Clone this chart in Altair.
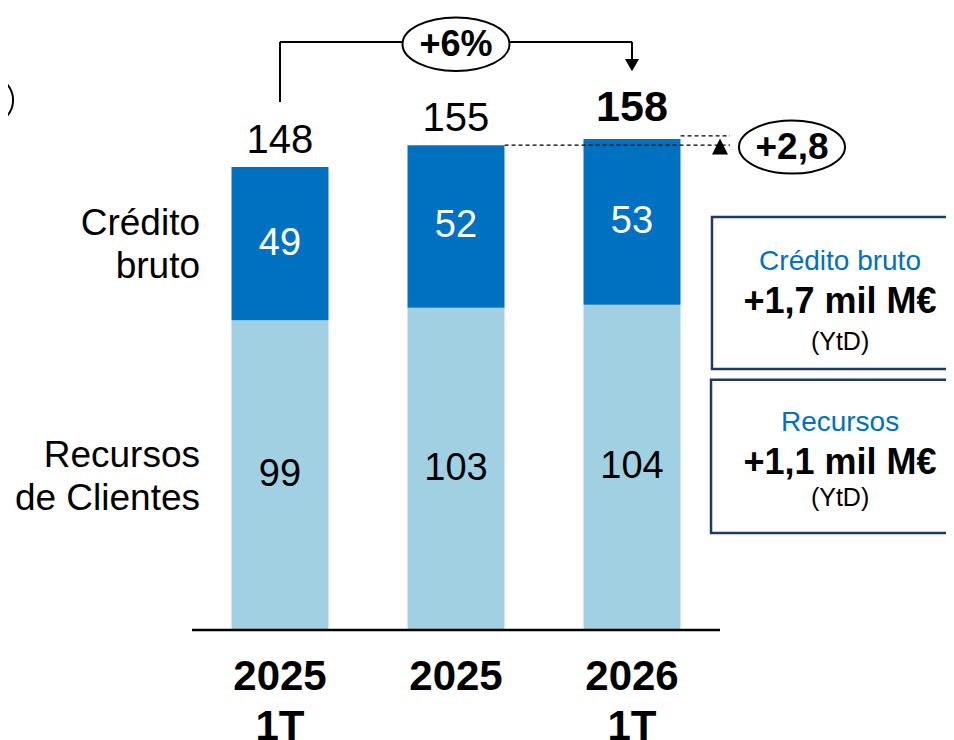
import altair as alt
import pandas as pd

# ---------------- data ----------------
categories = ["2025\n1T", "2025", "2026\n1T"]
recursos = [99, 103, 104]          # Recursos de Clientes
credito = [49, 52, 53]             # Crédito bruto
totals = [148, 155, 158]
side_labels = ["Crédito\nbruto", "Recursos\nde Clientes"]
box_titles = ["Crédito bruto", "Recursos"]
box_values = ["+1,7 mil M€", "+1,1 mil M€"]
box_notes = ["(YtD)", "(YtD)"]
growth_label = "+6%"
delta_label = "+2,8"

DARK = "#0070C0"
LIGHT = "#A1D0E3"
NAVY = "#1F3A60"
FONT = "Liberation Sans"

W, H = 938, 732
X_DOM = [-1.54545, 3.78409]    # category index units
Y_DOM = [-35.17, 198.85]       # value units

idx = list(range(len(categories)))

xs = lambda f="x": alt.X(f"{f}:Q", scale=alt.Scale(domain=X_DOM, nice=False, zero=False, padding=0), axis=None)
ys = lambda f="y": alt.Y(f"{f}:Q", scale=alt.Scale(domain=Y_DOM, nice=False, zero=False, padding=0), axis=None)

# ---------------- bars ----------------
bar_rows = []
for i, r, c in zip(idx, recursos, credito):
    bar_rows.append({"x": i, "y": 0, "y2": r, "seg": "Recursos"})
    bar_rows.append({"x": i, "y": r, "y2": r + c, "seg": "Crédito"})
bars_df = pd.DataFrame(bar_rows)

bars = alt.Chart(bars_df).mark_bar(size=97).encode(
    x=xs(), y=ys(), y2="y2:Q",
    color=alt.Color("seg:N", scale=alt.Scale(domain=["Recursos", "Crédito"], range=[LIGHT, DARK]), legend=None),
)

rec_lab_df = pd.DataFrame({"x": idx, "y": [r / 2 for r in recursos], "t": [str(r) for r in recursos]})
cre_lab_df = pd.DataFrame({"x": idx, "y": [r + c / 2 for r, c in zip(recursos, credito)], "t": [str(c) for c in credito]})

rec_lab = alt.Chart(rec_lab_df).mark_text(font=FONT, fontSize=38, color="black", baseline="middle").encode(
    x=xs(), y=ys(), text="t:N")
cre_lab = alt.Chart(cre_lab_df).mark_text(font=FONT, fontSize=38, color="white", baseline="middle").encode(
    x=xs(), y=ys(), text="t:N")

tot_df = pd.DataFrame({"x": idx, "y": totals, "t": [str(t) for t in totals]})
tot_lab = alt.Chart(tot_df.iloc[:2]).mark_text(font=FONT, fontSize=40, color="black", baseline="alphabetic", dy=-14).encode(
    x=xs(), y=ys(), text="t:N")
tot_lab_b = alt.Chart(tot_df.iloc[2:]).mark_text(font=FONT, fontSize=43, fontWeight="bold", color="black", baseline="alphabetic", dy=-15).encode(
    x=xs(), y=ys(), text="t:N")

# category labels under the axis line
cat_df = pd.DataFrame({"x": idx, "y": [0] * len(idx), "t": categories})
cat_lab = alt.Chart(cat_df).mark_text(font=FONT, fontSize=42, fontWeight="bold", color="black",
                                      baseline="alphabetic", lineBreak="\n", lineHeight=50, dy=60).encode(
    x=xs(), y=ys(), text="t:N")

# baseline
base_df = pd.DataFrame({"x": [-0.5], "x2": [2.5], "y": [0]})
base = alt.Chart(base_df).mark_rule(color="black", strokeWidth=2.5).encode(x=xs(), x2="x2:Q", y=ys())

# side labels left of first bar
side_df = pd.DataFrame({"x": [0, 0],
                        "y": [recursos[0] + credito[0] / 2, recursos[0] / 2],
                        "t": side_labels})
side = alt.Chart(side_df).mark_text(font=FONT, fontSize=37, color="black", align="right", baseline="middle",
                                    lineBreak="\n", lineHeight=43, dx=-80, dy=-19.5).encode(x=xs(), y=ys(), text="t:N")

# ---------------- growth bracket (+6%) ----------------
BR_Y = 188.0
br_df = pd.DataFrame({
    "x": [0, 0, 2], "x2": [0, 2, 2],
    "y": [totals[0] + 20.8, BR_Y, BR_Y], "y2": [BR_Y, BR_Y, 182.0],
})
bracket = alt.Chart(br_df).mark_rule(color="black", strokeWidth=2).encode(x=xs(), x2="x2:Q", y=ys(), y2="y2:Q")

arrow_df = pd.DataFrame({"x": [2], "y": [180.6]})
arrow_down = alt.Chart(arrow_df).mark_point(shape="triangle-down", size=200, filled=True, color="black", opacity=1).encode(
    x=xs(), y=ys())

ELL_A = "M -1 0 A 1 0.5 0 1 1 1 0 A 1 0.5 0 1 1 -1 0 Z"
ELL_B = "M -1 0 A 1 0.5 0 1 1 1 0 A 1 0.5 0 1 1 -1 0 Z"
TRI_UP = "M 0 -1 L 1 1 L -1 1 Z"

e1_df = pd.DataFrame({"x": [1], "y": [187.3], "t": [growth_label]})
ell1 = alt.Chart(e1_df).mark_point(shape=ELL_A, size=107 * 107, fill="white", stroke="black", strokeWidth=2,
                                   fillOpacity=1, strokeOpacity=1, opacity=1).encode(x=xs(), y=ys())
ell1_t = alt.Chart(e1_df).mark_text(font=FONT, fontSize=36, fontWeight="bold", color="black", baseline="middle", dy=1).encode(
    x=xs(), y=ys(), text="t:N")

# ---------------- delta (+2,8) ----------------
dash_df = pd.DataFrame({"x": [1.276, 2.276], "x2": [2.557, 2.557], "y": [totals[1], totals[2]]})
dashes = alt.Chart(dash_df).mark_rule(color="black", strokeWidth=1.2, strokeDash=[4, 3]).encode(
    x=xs(), x2="x2:Q", y=ys())

up_df = pd.DataFrame({"x": [2.5], "y": [154.6]})
arrow_up = alt.Chart(up_df).mark_point(shape=TRI_UP, size=256, filled=True, color="black", opacity=1).encode(
    x=xs(), y=ys())

e2_df = pd.DataFrame({"x": [2.909], "y": [154.4], "t": [delta_label]})
ell2 = alt.Chart(e2_df).mark_point(shape=ELL_B, size=106 * 106, fill="white", stroke="black", strokeWidth=2,
                                   fillOpacity=1, strokeOpacity=1, opacity=1).encode(x=xs(), y=ys())
ell2_t = alt.Chart(e2_df).mark_text(font=FONT, fontSize=37, fontWeight="bold", color="black", baseline="middle", dy=1).encode(
    x=xs(), y=ys(), text="t:N")

# partially visible ellipse at far left
e0_df = pd.DataFrame({"x": [-1.653], "y": [169.4]})
ell0 = alt.Chart(e0_df).mark_point(shape="circle", size=48 * 48, filled=False, stroke="black", strokeWidth=2,
                                   opacity=1, clip=True).encode(x=xs(), y=ys())

# ---------------- right summary boxes ----------------
box_df = pd.DataFrame({"x": [2.4545, 2.449], "x2": [4.2, 4.2], "y": [132.0, 80.0], "y2": [83.4, 31.0]})
boxes = alt.Chart(box_df).mark_rect(fill="white", stroke=NAVY, strokeWidth=2.5, clip=True).encode(
    x=xs(), x2="x2:Q", y=ys(), y2="y2:Q")

BOX_X = 3.182
bt_df = pd.DataFrame({"x": [BOX_X, BOX_X], "y": [117.6, 66.2], "t": box_titles})
bv_df = pd.DataFrame({"x": [BOX_X, BOX_X], "y": [104.9, 53.4], "t": box_values})
bn_df = pd.DataFrame({"x": [BOX_X, BOX_X], "y": [92.1, 42.2], "t": box_notes})
box_t = alt.Chart(bt_df).mark_text(font=FONT, fontSize=28, color=DARK, baseline="middle").encode(x=xs(), y=ys(), text="t:N")
box_v = alt.Chart(bv_df).mark_text(font=FONT, fontSize=36, fontWeight="bold", color="black", baseline="middle").encode(
    x=xs(), y=ys(), text="t:N")
box_n = alt.Chart(bn_df).mark_text(font=FONT, fontSize=25, color="black", baseline="middle").encode(x=xs(), y=ys(), text="t:N")

chart = alt.layer(
    bars, rec_lab, cre_lab, tot_lab, tot_lab_b, base, cat_lab, side,
    bracket, arrow_down, ell1, ell1_t,
    dashes, arrow_up, ell2, ell2_t, ell0,
    boxes, box_t, box_v, box_n,
).properties(
    width=W, height=H, padding=0, background="white",
    autosize=alt.AutoSizeParams(type="none"),
).configure_view(stroke=None)

chart.save("out.html", embed_options={"renderer": "svg", "actions": False})
